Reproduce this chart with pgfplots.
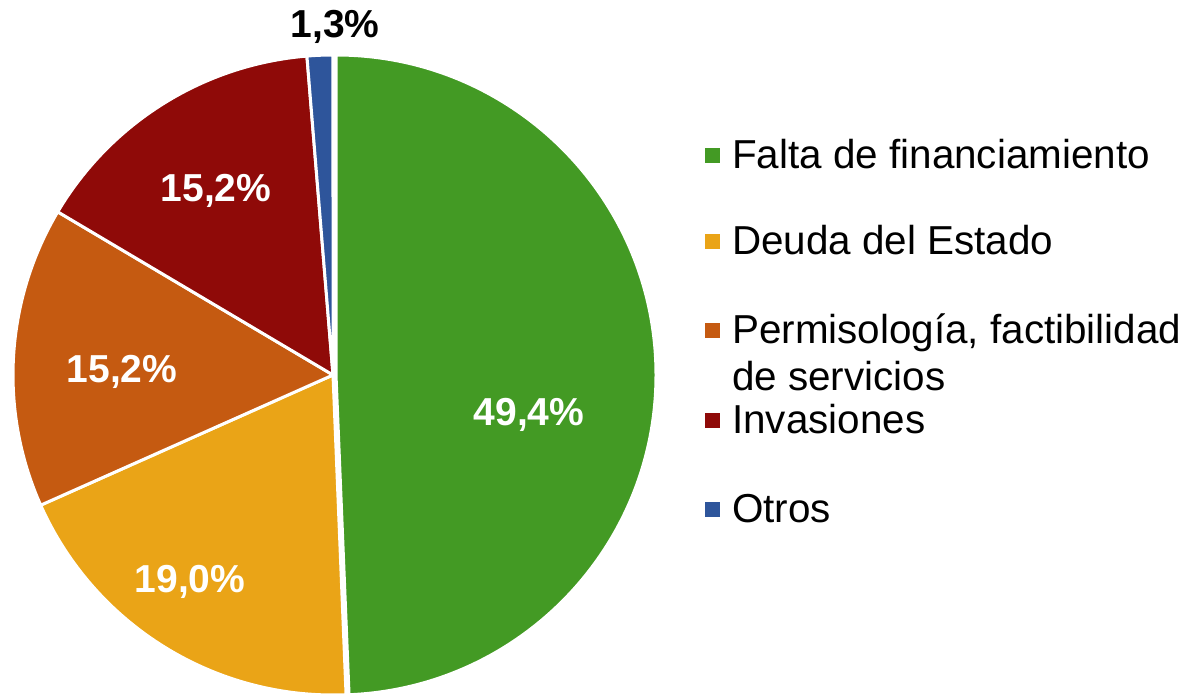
\documentclass[border=0pt]{standalone}
\usepackage{pgfplots}
\pgfplotsset{compat=1.18}
\usepackage{fontspec}
\setmainfont{Liberation Sans}
\definecolor{cgreen}{HTML}{439A24}
\definecolor{cyellow}{HTML}{EAA417}
\definecolor{corange}{HTML}{C55A11}
\definecolor{cred}{HTML}{8F0A08}
\definecolor{cblue}{HTML}{2E559B}
\begin{document}
\begin{tikzpicture}
\useasboundingbox (0,0) rectangle (1182pt,697pt);
\begin{axis}[x=1pt,y=1pt,xmin=0,xmax=1182,ymin=0,ymax=697,
  hide axis, clip=false, at={(0,0)}, anchor=south west]
\addplot[draw=none, forget plot] coordinates {(0,0) (1182,697)};
\pgfplotsextra{
  \gdef\cum{0}
  \foreach \v/\c/\dx in {49.4/cgreen/3, 19.0/cyellow/0, 15.2/corange/0, 15.2/cred/0, 1.3/cblue/0}{
    \pgfmathsetmacro\aS{90-3.6*\cum/1.001}
    \pgfmathsetmacro\aE{90-3.6*(\cum+\v)/1.001}
    \fill[\c, draw=white, line width=3pt, line join=round]
      ([xshift=\dx pt]axis cs:333,322) -- ++(\aS:320pt)
      arc[start angle=\aS, end angle=\aE, radius=320pt] -- cycle;
    \pgfmathsetmacro\tmp{\cum+\v}\xdef\cum{\tmp}
  }
}
\tikzset{plab/.style={anchor=base, inner sep=0pt, font=\fontsize{39}{46}\selectfont\bfseries}}
\node[plab, text=white] at (axis cs:529,272) {49,4\%};
\node[plab, text=white] at (axis cs:190,105) {19,0\%};
\node[plab, text=white] at (axis cs:122,315) {15,2\%};
\node[plab, text=white] at (axis cs:216,495) {15,2\%};
\node[plab, text=black] at (axis cs:335,659) {1,3\%};
\tikzset{leg/.style={anchor=base west, inner sep=0pt, font=\fontsize{40.4}{48}\selectfont}}
\fill[cgreen] (axis cs:705,533.5) rectangle (axis cs:720,548.5);
\node[leg] at (axis cs:732,528) {Falta de financiamiento};
\fill[cyellow] (axis cs:705,447.5) rectangle (axis cs:720,462.5);
\node[leg] at (axis cs:732,442) {Deuda del Estado};
\fill[corange] (axis cs:705,359.5) rectangle (axis cs:720,374.5);
\node[leg] at (axis cs:732,354) {Permisología, factibilidad};
\node[leg] at (axis cs:732,307) {de servicios};
\fill[cred] (axis cs:705,269.5) rectangle (axis cs:720,284.5);
\node[leg] at (axis cs:732,264) {Invasiones};
\fill[cblue] (axis cs:705,180.5) rectangle (axis cs:720,195.5);
\node[leg] at (axis cs:732,175) {Otros};
\end{axis}
\end{tikzpicture}
\end{document}
